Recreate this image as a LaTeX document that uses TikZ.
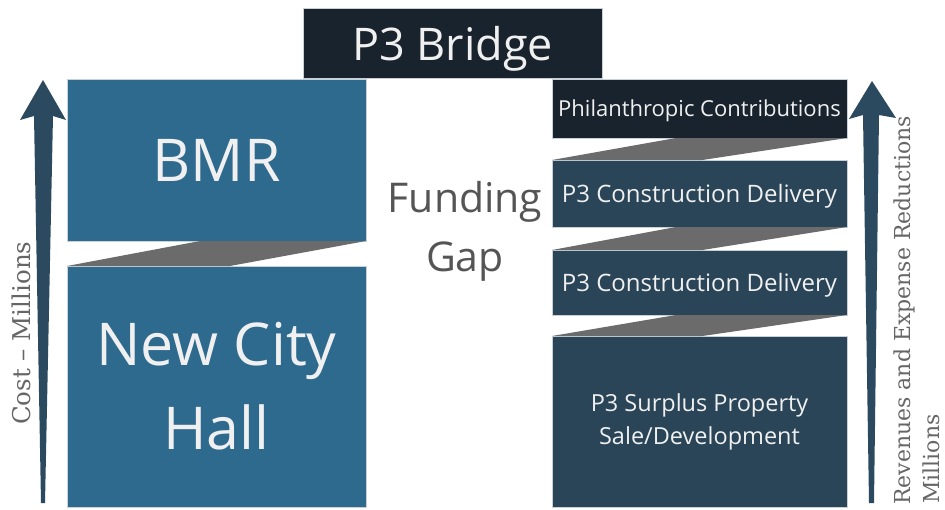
\documentclass[tikz,border=0pt]{standalone}
\usepackage{fontspec}
\setmainfont{Open Sans}
\newfontfamily\axisfont{DejaVu Serif}
\usetikzlibrary{calc}
\definecolor{costblue}{HTML}{2E6A8E}
\definecolor{revslate}{HTML}{2A4557}
\definecolor{bridgedark}{HTML}{18232D}
\definecolor{wedgegray}{HTML}{6B6B6B}
\definecolor{arrowslate}{HTML}{2C4A5F}
\definecolor{gaptext}{HTML}{555555}
\definecolor{axistext}{HTML}{666666}
\definecolor{edgeline}{HTML}{C9D1D7}
\begin{document}
\begin{tikzpicture}[x=1pt,y=-1pt,
  block/.style={inner sep=0pt, outer sep=0pt, text=white!94!black, align=center,
                draw=edgeline, line width=0.5pt},
  costbox/.style={block, fill=costblue},
  revbox/.style={block, fill=revslate},
  darkbox/.style={block, fill=bridgedark},
  wedge/.style={fill=wedgegray},
  axisarrow/.style={fill=arrowslate},
  axislabel/.style={inner sep=0pt, text=axistext, rotate=90, anchor=base west,
                    font=\axisfont\fontsize{22}{26}\selectfont}]
\useasboundingbox (0,0) rectangle (945,509);

% top bridge
\node[darkbox, minimum width=299, minimum height=70, text depth=0pt,
      font=\fontsize{45}{50}\selectfont] (bridge) at (452.5,43) {P3 Bridge};

% cost side
\node[costbox, minimum width=299, minimum height=162,
      font=\fontsize{59}{70}\selectfont] (bmr) at (216.5,160) {\raisebox{-3pt}{BMR}};
\node[costbox, minimum width=299, minimum height=241,
      font=\fontsize{59}{84}\selectfont] (nch) at (216.5,386.5) {New City\\Hall};

% revenue side
\node[darkbox, minimum width=295, minimum height=59, text depth=0pt,
      font=\fontsize{22}{26}\selectfont] (phil) at (699.5,108.5) {Philanthropic Contributions};
\node[revbox, minimum width=295, minimum height=67, text depth=0pt,
      font=\fontsize{24}{28}\selectfont] (pcd1) at (699.5,193.5) {P3 Construction Delivery};
\node[revbox, minimum width=295, minimum height=65, text depth=0pt,
      font=\fontsize{24}{28}\selectfont] (pcd2) at (699.5,282.5) {P3 Construction Delivery};
\node[revbox, minimum width=295, minimum height=171,
      font=\fontsize{23.5}{33}\selectfont] (surplus) at (699.5,421.5) {P3 Surplus Property\\Sale/Development};

% slanted joints between stacked blocks
\fill[wedge] (bmr.south east) -- ($(bmr.south west)!0.445!(bmr.south east)$)
  -- (nch.north west) -- ($(nch.north west)!0.545!(nch.north east)$) -- cycle;
\fill[wedge] (phil.south east) -- ($(phil.south west)!0.42!(phil.south east)$)
  -- (pcd1.north west) -- ($(pcd1.north west)!0.51!(pcd1.north east)$) -- cycle;
\fill[wedge] (pcd1.south east) -- ($(pcd1.south west)!0.42!(pcd1.south east)$)
  -- (pcd2.north west) -- ($(pcd2.north west)!0.51!(pcd2.north east)$) -- cycle;
\fill[wedge] (pcd2.south east) -- ($(pcd2.south west)!0.42!(pcd2.south east)$)
  -- (surplus.north west) -- ($(surplus.north west)!0.51!(surplus.north east)$) -- cycle;

% gap label
\node[inner sep=0pt, text=gaptext, align=center,
      font=\fontsize{41}{59}\selectfont] (gap) at (465,231) {Funding\\Gap};

% tapered axis arrows
\fill[axisarrow] (43,80) -- (66,120) -- (53,116) -- (45,503) -- (41,503)
  -- (34,116) -- (20,120) -- cycle;
\fill[axisarrow] (872,81) -- (896,118) -- (879,115) -- (874,503) -- (869,503)
  -- (863,115) -- (849,119) -- cycle;

% axis labels
\node[axislabel, font=\axisfont\fontsize{24.5}{28}\selectfont] (costlbl) at (30,425) {Cost – Millions};
\node[axislabel] (revlbl) at (910,505) {Revenues and Expense Reductions};
\node[axislabel] (revunit) at (939,504) {Millions};
\end{tikzpicture}
\end{document}
